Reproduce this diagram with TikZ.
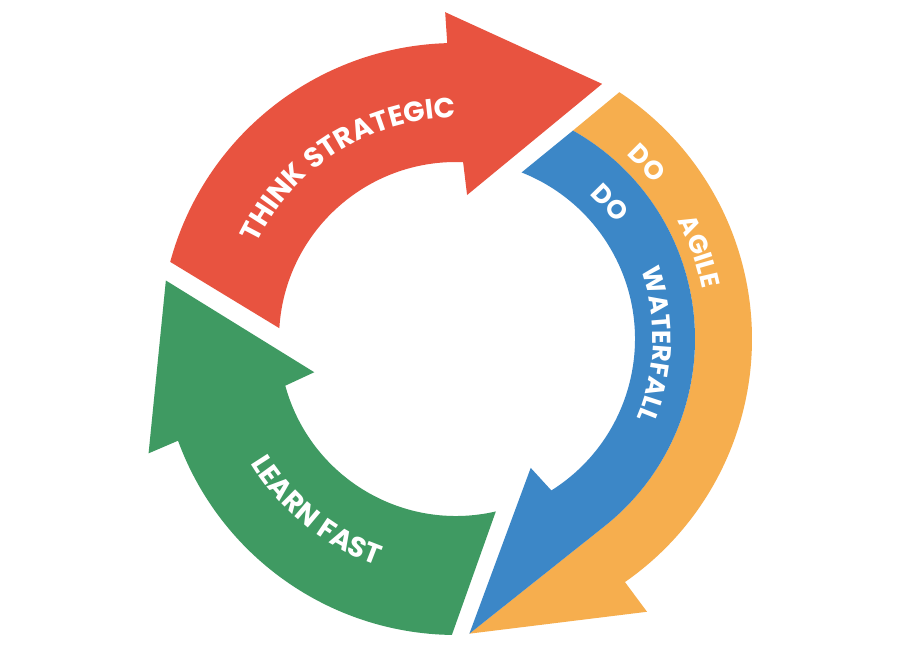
\documentclass[tikz,border=0pt]{standalone}
\usepackage{fontspec}
\newfontfamily\labfam{Poppins}[LetterSpace=6]
\usetikzlibrary{decorations.text}
\definecolor{redc}{HTML}{E85340}
\definecolor{orangec}{HTML}{F6AE4E}
\definecolor{bluec}{HTML}{3C87C7}
\definecolor{greenc}{HTML}{3F9A62}
\newcommand{\lf}{\labfam\bfseries\fontsize{28}{28}\selectfont}
\newcommand{\lfs}{\labfam\bfseries\fontsize{26}{26}\selectfont}
\tikzset{
  arctext/.style={decorate, decoration={text along path, text align=center, text color=white, text={|\lf|#1}}},
  arctexts/.style={decorate, decoration={text along path, text align=center, text color=white, text={|\lfs|#1}}}
}
\begin{document}
\begin{tikzpicture}[x=1pt,y=1pt]
\useasboundingbox (0,0) rectangle (900,660);
\fill[white] (0,0) rectangle (900,660);
\begin{scope}[shift={(456,321)}]
% red arrow
\fill[redc] (164.9:296) arc[start angle=164.9, end angle=91.7, radius=296]
  -- (91.9:327) -- (60.2:294) -- (85.6:144.4) -- (87.7:177)
  arc[start angle=87.7, end angle=176.5, radius=177] -- cycle;
% green arrow
\fill[greenc] (168.6:296) -- (193.2:145.6) -- (195.3:177)
  arc[start angle=195.3, end angle=283, radius=177] -- (269.2:296)
  arc[start angle=269.2, end angle=200.1, radius=296] -- (200.4:328) -- cycle;
% orange arrow
\fill[orangec] (56.5:296) arc[start angle=56.5, end angle=-55.2, radius=296]
  -- (-55:333) -- (-87.4:295) -- (-51.5:239)
  arc[start angle=-51.5, end angle=60.7, radius=239] -- cycle;
% blue arrow
\fill[bluec] (60.7:239) arc[start angle=60.7, end angle=-51.5, radius=239]
  -- (-87.4:295) -- (-59.9:149) -- (-57.8:179)
  arc[start angle=-57.8, end angle=68.5, radius=179] -- cycle;
% labels
\path[arctext={THINK STRATEGIC}] (172.2:221) arc[start angle=172.2, end angle=72.2, radius=221];
\path[arctext={LEARN FAST}] (181:240) arc[start angle=181, end angle=281, radius=240];
\path[arctexts={DO}] (61.6:197) arc[start angle=61.6, end angle=21.6, radius=197];
\path[arctexts={WATERFALL}] (33.5:197) arc[start angle=33.5, end angle=-36.5, radius=197];
\path[arctexts={DO}] (62.7:251) arc[start angle=62.7, end angle=22.7, radius=251];
\path[arctexts={AGILE}] (49.7:251) arc[start angle=49.7, end angle=-10.3, radius=251];
\end{scope}
\end{tikzpicture}
\end{document}
